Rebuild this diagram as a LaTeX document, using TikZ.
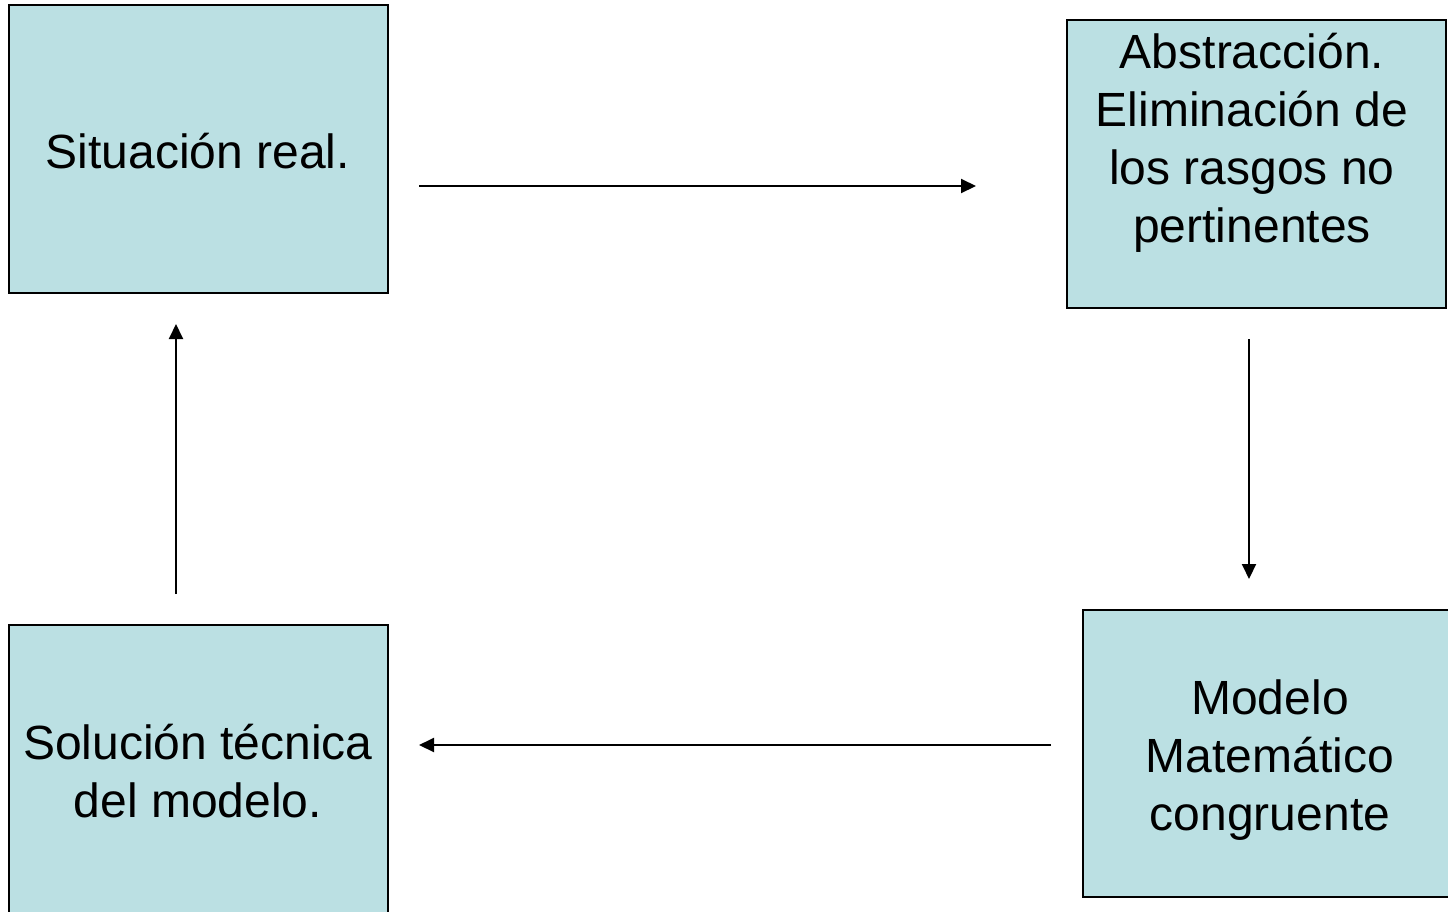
\documentclass[tikz,border=0pt]{standalone}
\usepackage{fontspec}
\setmainfont{Liberation Sans}
\usetikzlibrary{arrows.meta}
\definecolor{boxfill}{HTML}{BBE0E3}
\begin{document}
\begin{tikzpicture}[x=1pt,y=-1pt,
  stage/.style={draw=black, line width=2pt, fill=boxfill,
    minimum width=379pt, minimum height=288pt, inner sep=0pt},
  label/.style={align=center, font=\fontsize{48}{58}\selectfont, inner sep=0pt},
  arr/.style={line width=2pt, -{Triangle[length=15pt,width=14pt]}}]
  \useasboundingbox (0,0) rectangle (1448,911);
  \clip (0,0) rectangle (1448,911);

  % the four stages of the modelling cycle
  \node[stage] (b1) at (198.5,149) {};
  \node[stage] (b2) at (1256.5,164) {};
  \node[stage, minimum height=287pt] (b3) at (1272.5,753.5) {};
  \node[stage] (b4) at (198.5,769) {};

  \node[label] (t1) at (198,151) {Situación real.};
  \node[label] (t2) at (1252,142.5) {Abstracción.\\Eliminación de\\los rasgos no\\pertinentes};
  \node[label] (t3) at (1270,760) {Modelo\\Matemático\\congruente};
  \node[label] (t4) at (198,771) {Solución técnica\\del modelo.};

  % connectors between the stages
  \draw[arr, shorten <=30pt, shorten >=90pt]
    ([yshift=-37pt]b1.east) -- ([yshift=-37pt]b1.east -| b2.west);
  \draw[arr, shorten <=30pt, shorten >=30pt]
    ([xshift=-7.5pt]b2.south) -- ([xshift=-7.5pt]b2.south |- b3.north);
  \draw[arr, shorten <=31pt, shorten >=30pt]
    ([yshift=8.5pt]b3.west) -- ([yshift=8.5pt]b3.west -| b4.east);
  \draw[arr, shorten <=30pt, shorten >=30pt]
    ([xshift=-22.5pt]b4.north) -- ([xshift=-22.5pt]b4.north |- b1.south);
\end{tikzpicture}
\end{document}
